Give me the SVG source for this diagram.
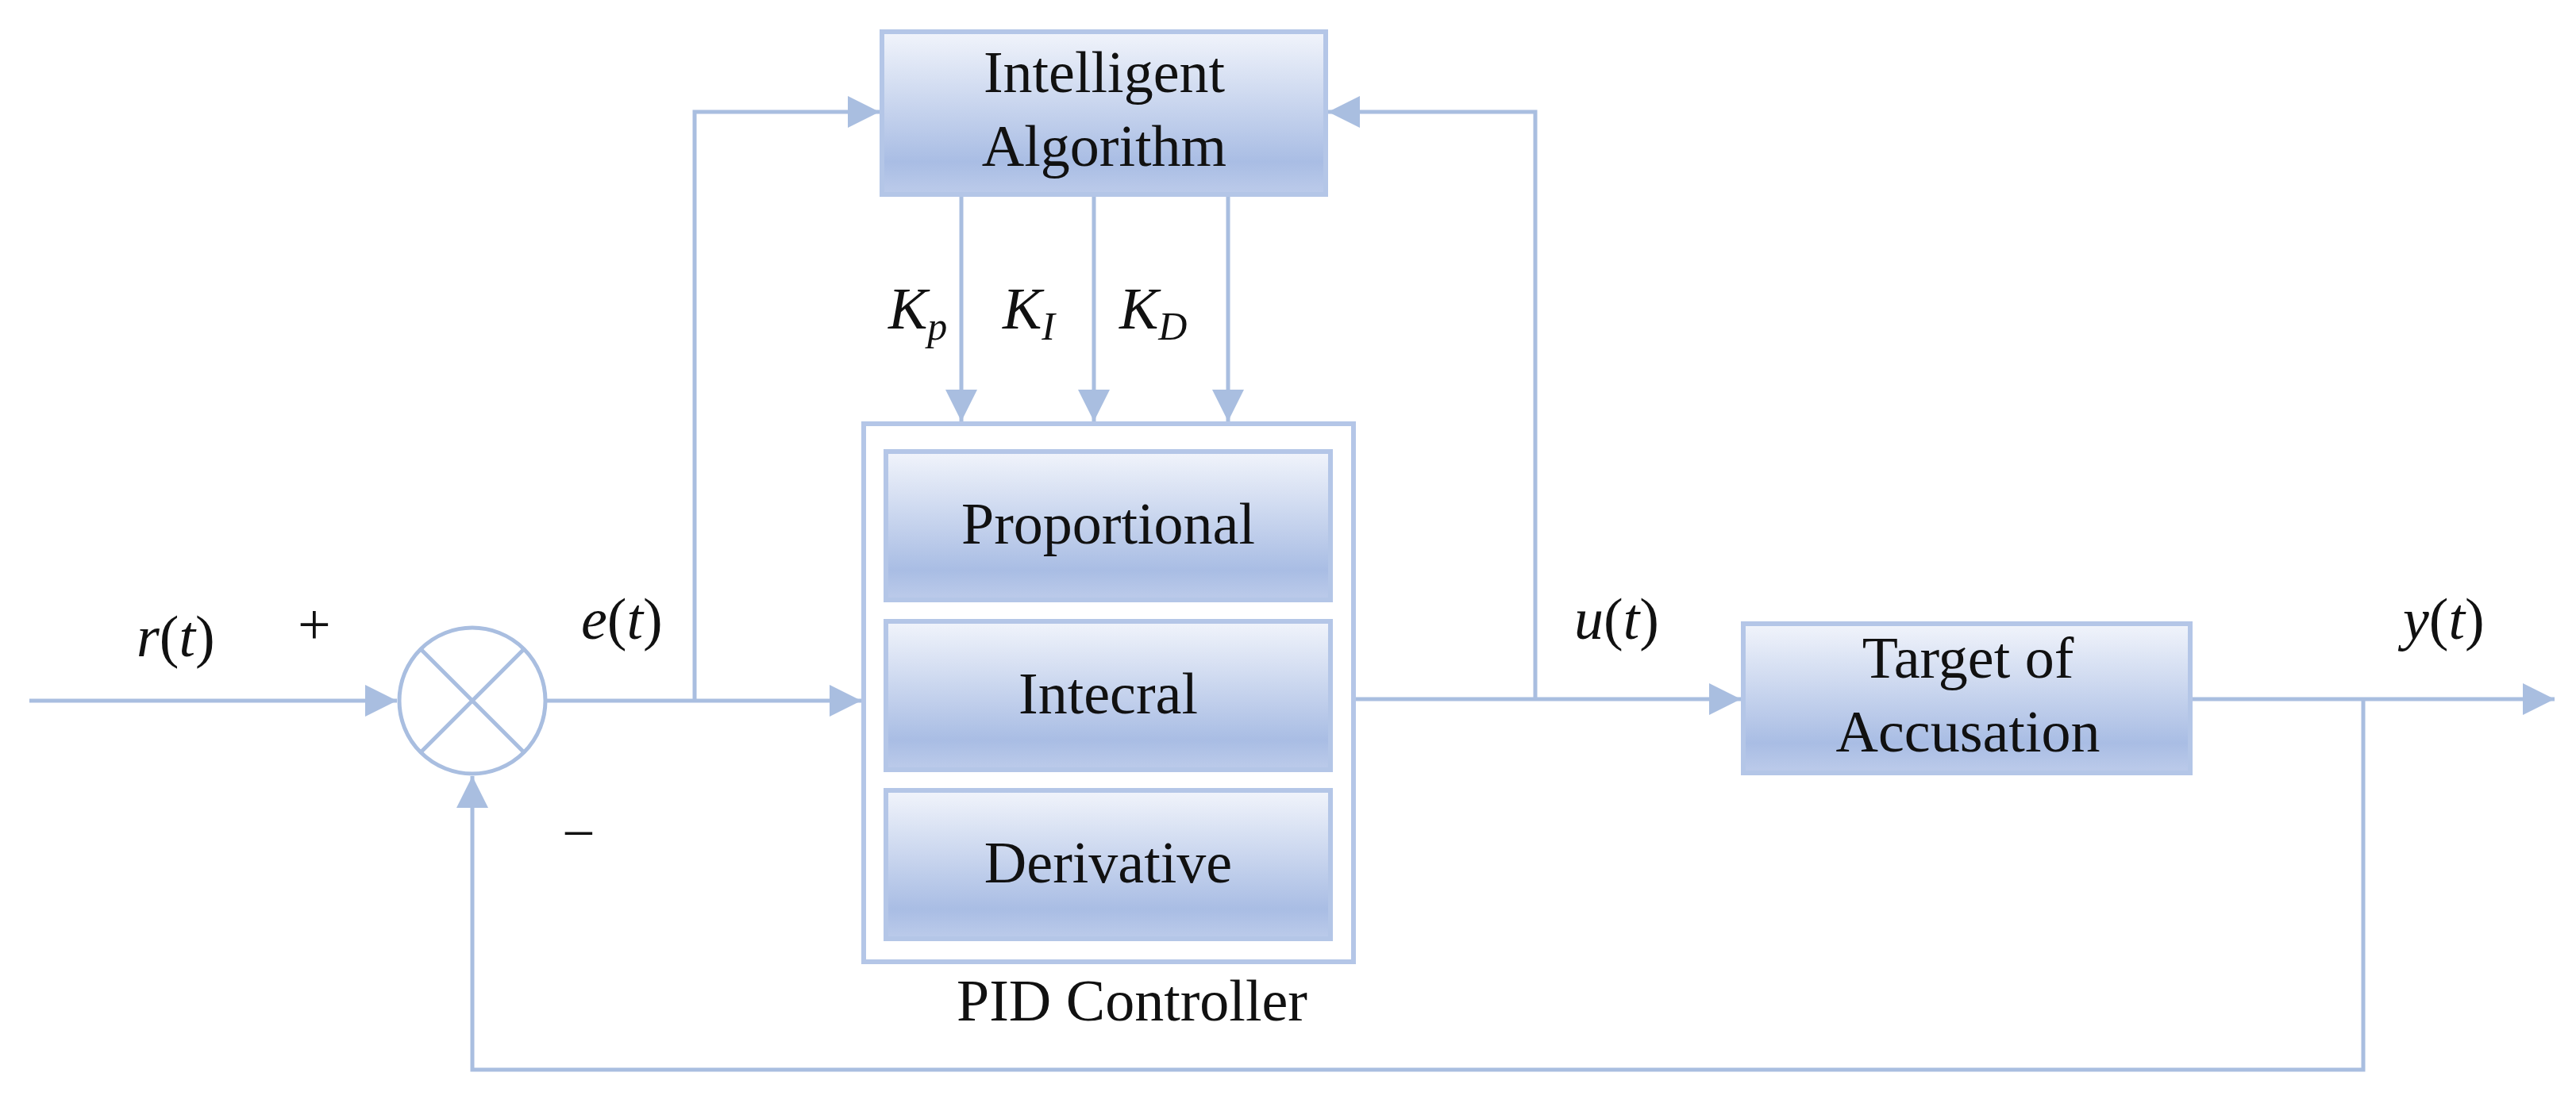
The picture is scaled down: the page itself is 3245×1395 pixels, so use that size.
<svg xmlns="http://www.w3.org/2000/svg" width="3245" height="1395" viewBox="0 0 3245 1395">
<defs>
<linearGradient id="g" x1="0" y1="0" x2="0" y2="1">
<stop offset="0" stop-color="#F1F4FB"/><stop offset="0.8" stop-color="#A9BDE4"/><stop offset="1" stop-color="#BCCBEA"/>
</linearGradient>
<marker id="a" markerWidth="10" markerHeight="10" refX="9" refY="5" orient="auto" markerUnits="userSpaceOnUse" viewBox="0 0 10 10">
</marker>
<marker id="ar" viewBox="0 0 10 10" refX="10" refY="5" markerWidth="40" markerHeight="40" markerUnits="userSpaceOnUse" orient="auto"><path d="M0,0 L10,5 L0,10 z" fill="#A9BEE0"/></marker>
</defs>
<style>
.ln{fill:none;stroke:#A9BEE0;stroke-width:5}
.bx{fill:url(#g);stroke:#B4C6E7;stroke-width:6}
.t{font-family:"Liberation Serif",serif;font-size:74px;fill:#111;text-anchor:middle}
.i{font-family:"Liberation Serif",serif;font-size:74px;fill:#111;font-style:italic}
.n{font-family:"Liberation Serif",serif;font-size:74px;fill:#111}
</style>
<rect width="3245" height="1395" fill="#fff"/>
<g id="connectors">
<path class="ln" d="M37,883 H500" marker-end="url(#ar)"/>
<path class="ln" d="M687,883 H1085" marker-end="url(#ar)"/>
<path class="ln" d="M875,883 V141 H1108" marker-end="url(#ar)"/>
<path class="ln" d="M1211,245 V531" marker-end="url(#ar)"/>
<path class="ln" d="M1378,245 V531" marker-end="url(#ar)"/>
<path class="ln" d="M1547,245 V531" marker-end="url(#ar)"/>
<path class="ln" d="M1705,881 H2193" marker-end="url(#ar)"/>
<path class="ln" d="M1934,881 V141 H1673" marker-end="url(#ar)"/>
<path class="ln" d="M2759,881 H3218" marker-end="url(#ar)"/>
<path class="ln" d="M2977,881 V1348 H595 V978" marker-end="url(#ar)"/>
</g>
<g id="sum">
<circle cx="595" cy="883" r="92" fill="#fff" stroke="#A9BEE0" stroke-width="5"/>
<path class="ln" d="M530,818 L660,948 M660,818 L530,948"/>
</g>
<g id="intelligent">
<rect class="bx" x="1111" y="40" width="559" height="205"/>
<text class="t" x="1391" y="116">Intelligent</text>
<text class="t" x="1391" y="209">Algorithm</text>
</g>
<g id="pid">
<rect x="1088" y="534" width="617" height="678" fill="#fff" stroke="#B4C6E7" stroke-width="6"/>
<rect class="bx" x="1116" y="569" width="560" height="187"/>
<text class="t" x="1396" y="685">Proportional</text>
<rect class="bx" x="1116" y="783" width="560" height="187"/>
<text class="t" x="1396" y="899">Intecral</text>
<rect class="bx" x="1116" y="996" width="560" height="187"/>
<text class="t" x="1396" y="1112">Derivative</text>
<text class="t" x="1426" y="1286">PID Controller</text>
</g>
<g id="target">
<rect class="bx" x="2196" y="786" width="563" height="188"/>
<text class="t" x="2479" y="854">Target of</text>
<text class="t" x="2479" y="947">Accusation</text>
</g>
<g id="labels">
<text class="i" x="1119" y="414">K<tspan font-size="50" dy="14">p</tspan></text>
<text class="i" x="1263" y="414">K<tspan font-size="50" dy="14">I</tspan></text>
<text class="i" x="1410" y="414">K<tspan font-size="50" dy="14">D</tspan></text>
<text class="n" x="172" y="827"><tspan font-style="italic">r</tspan>(<tspan font-style="italic">t</tspan>)</text>
<text class="n" x="375" y="812" font-size="80">+</text>
<text class="n" x="732" y="805"><tspan font-style="italic">e</tspan>(<tspan font-style="italic">t</tspan>)</text>
<text class="n" x="708" y="1075" font-size="80">−</text>
<text class="n" x="1983" y="805"><tspan font-style="italic">u</tspan>(<tspan font-style="italic">t</tspan>)</text>
<text class="n" x="3027" y="805"><tspan font-style="italic">y</tspan>(<tspan font-style="italic">t</tspan>)</text>
</g>
</svg>
